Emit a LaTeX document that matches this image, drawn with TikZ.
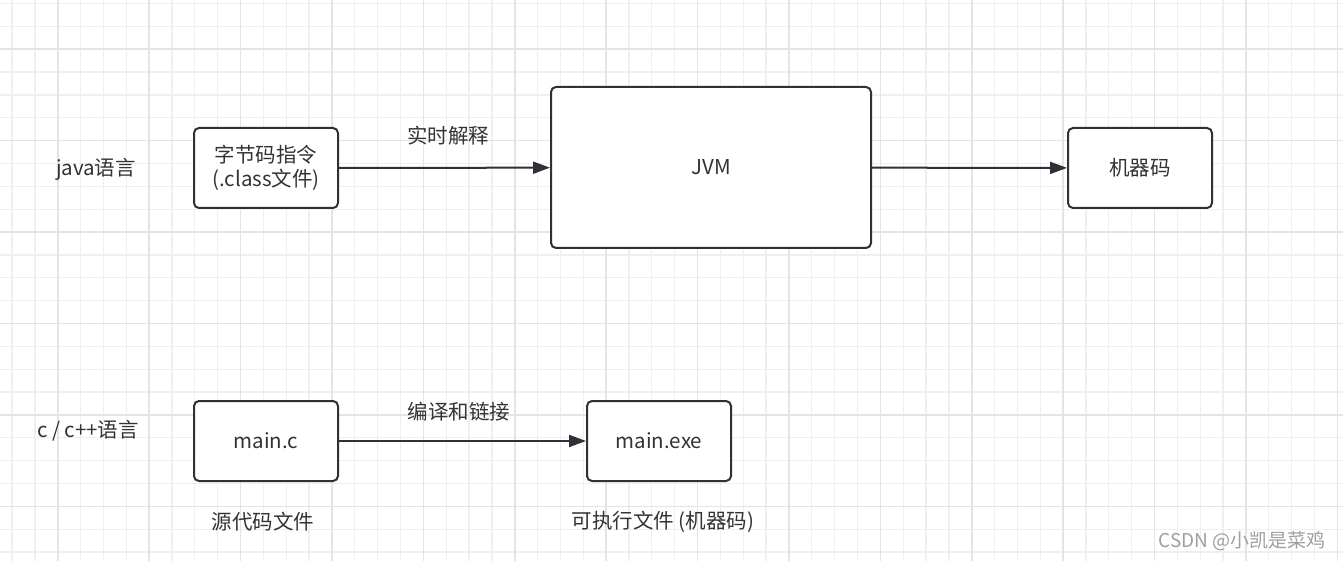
\documentclass[tikz,border=0pt]{standalone}
\usepackage{fontspec}
\setmainfont{Noto Sans CJK SC}
\usetikzlibrary{arrows.meta}

\definecolor{edgecol}{HTML}{2E3236}
\definecolor{textcol}{HTML}{333333}
\definecolor{gridminor}{HTML}{EFEFEF}
\definecolor{gridmajor}{HTML}{E4E4E4}

\tikzset{
  block/.style={draw=edgecol, line width=2pt, rounded corners=5pt, fill=white,
    text=textcol, align=center, inner sep=0pt},
  label/.style={text=textcol, font=\fontsize{20.5}{24}\selectfont},
  flow/.style={draw=edgecol, line width=2pt, -{Triangle[length=17pt,width=12pt]}}
}

\begin{document}
\begin{tikzpicture}[x=1pt, y=-1pt]
  \useasboundingbox (0,0) rectangle (1343,561);
  \fill[white] (0,0) rectangle (1343,561);

  % background grid
  \foreach \i in {0,...,58} {
    \draw[gridminor, line width=1.3pt] (12+\i*22.85, 0) -- (12+\i*22.85, 561);
  }
  \foreach \j in {0,...,24} {
    \draw[gridminor, line width=1.3pt] (0, 3.6+\j*22.85) -- (1343, 3.6+\j*22.85);
  }
  \foreach \i in {0,...,14} {
    \draw[gridmajor, line width=1.6pt] (57.7+\i*91.4, 0) -- (57.7+\i*91.4, 561);
  }
  \foreach \j in {0,...,5} {
    \draw[gridmajor, line width=1.6pt] (0, 49.3+\j*91.4) -- (1343, 49.3+\j*91.4);
  }

  % java row
  \node[label] (java) at (96, 169) {java语言};
  \node[block, label, minimum width=144pt, minimum height=80pt] (bytecode) at (266, 168)
    {字节码指令\\(.class文件)};
  \node[block, label, minimum width=320pt, minimum height=161pt] (jvm) at (711, 167.5) {JVM};
  \node[block, label, minimum width=144pt, minimum height=80pt] (mcode) at (1140, 168) {机器码};
  \draw[flow] (bytecode) -- (jvm);
  \draw[flow] (jvm) -- (mcode);
  \node[label] (interp) at (448, 136) {实时解释};

  % c row
  \node[label] (clang) at (88, 431) {c / c++语言};
  \node[block, label, minimum width=144pt, minimum height=80pt] (mainc) at (266, 441) {main.c};
  \node[block, label, minimum width=144pt, minimum height=80pt] (mainexe) at (659, 441) {main.exe};
  \draw[flow] (mainc) -- (mainexe);
  \node[label] (compile) at (459, 412) {编译和链接};
  \node[label] (src) at (263, 522) {源代码文件};
  \node[label] (exe) at (663, 522) {可执行文件 (机器码)};

  % watermark
  \node[text=gray!75, font=\fontsize{19}{22}\selectfont] (mark) at (1242, 541) {CSDN @小凯是菜鸡};
\end{tikzpicture}
\end{document}
